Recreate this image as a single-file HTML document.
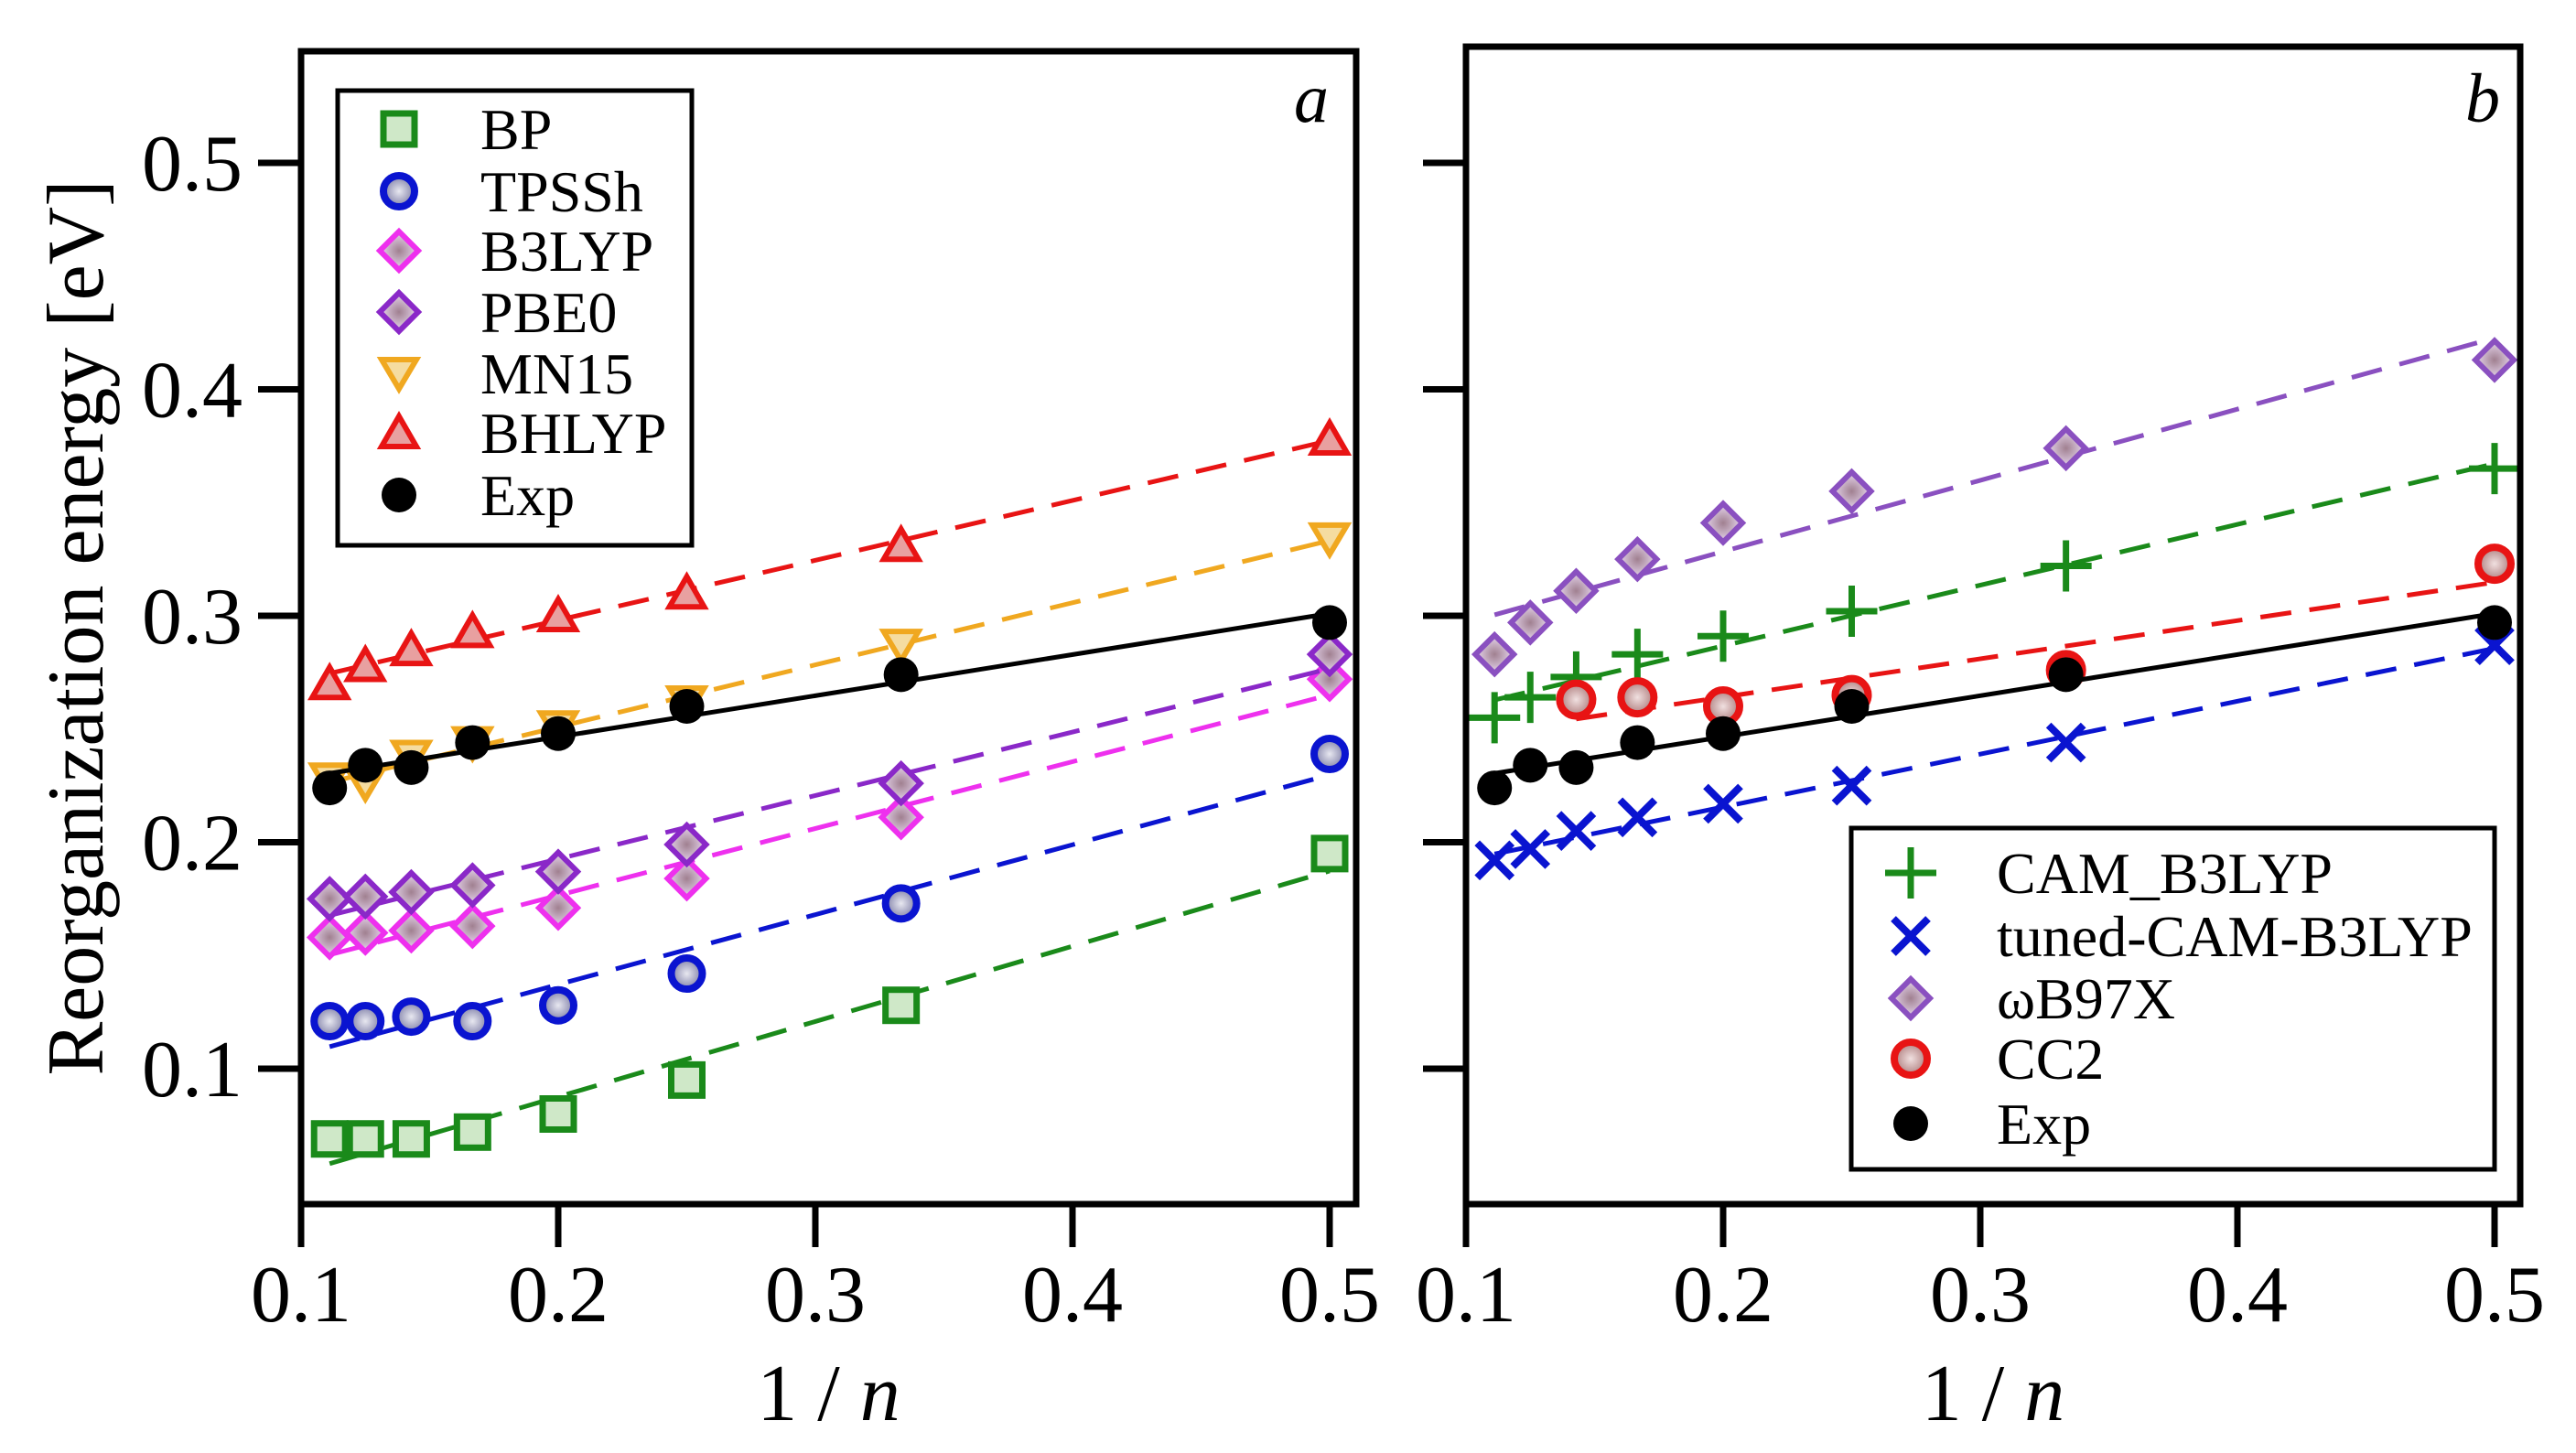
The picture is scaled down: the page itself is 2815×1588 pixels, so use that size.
<!DOCTYPE html>
<html><head><meta charset="utf-8">
<style>
html,body{margin:0;padding:0;background:#fff;}
svg{display:block;font-family:"Liberation Serif",serif;}
</style></head>
<body>
<svg id="chart" width="2815" height="1588" viewBox="0 0 2815 1588" xmlns="http://www.w3.org/2000/svg">
<defs>
<radialGradient id="gb" cx="50%" cy="50%" r="50%"><stop offset="0" stop-color="#e8e8f0"/><stop offset="1" stop-color="#8080a8"/></radialGradient>
<radialGradient id="gr" cx="50%" cy="50%" r="50%"><stop offset="0" stop-color="#f0e0e0"/><stop offset="1" stop-color="#b08080"/></radialGradient>
<radialGradient id="gp" cx="50%" cy="50%" r="50%"><stop offset="0" stop-color="#a08090"/><stop offset="1" stop-color="#e8d8f0"/></radialGradient>
</defs>
<g id="plot"></g>
</svg>
<script>
const xVals = [1/9, 1/8, 1/7, 1/6, 1/5, 1/4, 1/3, 1/2];
const xTicks = [0.1, 0.2, 0.3, 0.4, 0.5];
const yTicks = [0.1, 0.2, 0.3, 0.4, 0.5];
const tickLabels = ["0.1", "0.2", "0.3", "0.4", "0.5"];
const bp = [0.069, 0.069, 0.069, 0.072, 0.080, 0.095, 0.128, 0.195];
const tpssh = [0.121, 0.121, 0.123, 0.121, 0.128, 0.142, 0.173, 0.239];
const b3lyp = [0.158, 0.160, 0.161, 0.163, 0.171, 0.184, 0.211, 0.272];
const pbe0 = [0.175, 0.176, 0.178, 0.181, 0.187, 0.199, 0.226, 0.283];
const mn15 = [0.228, 0.226, 0.238, 0.244, 0.251, 0.262, 0.287, 0.334];
const bhlyp = [0.270, 0.278, 0.285, 0.293, 0.300, 0.310, 0.331, 0.378];
const expVals = [0.224, 0.234, 0.233, 0.244, 0.248, 0.260, 0.274, 0.297];
const camb3lyp = [0.255, 0.264, 0.273, 0.283, 0.291, 0.302, 0.322, 0.365];
const tuned = [0.192, 0.197, 0.205, 0.211, 0.217, 0.225, 0.244, 0.287];
const wb97x = [0.283, 0.297, 0.311, 0.325, 0.341, 0.355, 0.374, 0.413];
const cc2X = [1/7, 1/6, 1/5, 1/4, 1/3, 1/2];
const cc2 = [0.263, 0.264, 0.260, 0.265, 0.276, 0.323];

const NS = "http://www.w3.org/2000/svg";
const root = document.getElementById('plot');
function el(tag, attrs, parent, text){
  const e = document.createElementNS(NS, tag);
  for (const k in attrs) e.setAttribute(k, attrs[k]);
  if (text !== undefined) e.textContent = text;
  (parent || root).appendChild(e);
  return e;
}
const yPx = v => 1168 - (v - 0.1) * 2475;
function makeX(x01, per){ return v => x01 + (v - 0.1) * per; }
const panels = [
  {name:'a', left:329, right:1482, top:56, xf: makeX(329, 2810), lx:1452},
  {name:'b', left:1602, right:2754, top:51, xf: makeX(1602, 2810), lx:2732}
];
const BOT = 1316;

function fit(xs, ys){
  const n = xs.length; let sx=0, sy=0, sxx=0, sxy=0;
  for (let i=0;i<n;i++){ sx+=xs[i]; sy+=ys[i]; sxx+=xs[i]*xs[i]; sxy+=xs[i]*ys[i]; }
  const m = (n*sxy - sx*sy)/(n*sxx - sx*sx);
  return [m, (sy - m*sx)/n];
}

function marker(g, type, color, cx, cy){
  let m;
  if (type==='square') m = el('rect',{x:cx-17,y:cy-17,width:34,height:34,fill:'#cfe8c8',stroke:color,'stroke-width':7},g);
  else if (type==='circle') m = el('circle',{cx:cx,cy:cy,r:17,fill:'url(#gb)',stroke:color,'stroke-width':8},g);
  else if (type==='circleR') m = el('circle',{cx:cx,cy:cy,r:18,fill:'url(#gr)',stroke:color,'stroke-width':8},g);
  else if (type==='diamond') m = el('polygon',{points:`${cx},${cy-21} ${cx+21},${cy} ${cx},${cy+21} ${cx-21},${cy}`,fill:'url(#gp)',stroke:color,'stroke-width':6},g);
  else if (type==='tridown') m = el('polygon',{points:`${cx-19},${cy-15} ${cx+19},${cy-15} ${cx},${cy+17}`,fill:'#f5dca0',stroke:color,'stroke-width':6},g);
  else if (type==='triup') m = el('polygon',{points:`${cx-19},${cy+15} ${cx+19},${cy+15} ${cx},${cy-18}`,fill:'#e8a0a0',stroke:color,'stroke-width':6},g);
  else if (type==='dot') m = el('circle',{cx:cx,cy:cy,r:19,fill:'#000'},g);
  else if (type==='plus') m = el('path',{d:`M${cx-28},${cy}H${cx+28}M${cx},${cy-28}V${cy+28}`,stroke:color,'stroke-width':7,fill:'none'},g);
  else if (type==='cross') m = el('path',{d:`M${cx-19},${cy-19}L${cx+19},${cy+19}M${cx+19},${cy-19}L${cx-19},${cy+19}`,stroke:color,'stroke-width':8,fill:'none'},g);
  return m;
}

function series(p, name, xs, ys, type, color, dashed){
  const g = el('g',{});
  
  
  const [m, b] = fit(xs, ys);
  const x0 = Math.min(...xs), x1 = Math.max(...xs);
  const ln = el('line',{x1:p.xf(x0),y1:yPx(m*x0+b),x2:p.xf(x1),y2:yPx(m*x1+b),stroke:dashed?color:'#000','stroke-width':5,'stroke-dasharray':dashed?'34 20':'none'},g);
  
  
  xs.forEach((x,i)=>{
    const mk = marker(g, type, color, p.xf(x), yPx(ys[i]));
    
    
  });
}

panels.forEach((p, pi)=>{
  const ax = el('g',{});
  
  
  xTicks.forEach((t,i)=>{
    const x = p.xf(t);
    const tk = el('line',{x1:x,y1:BOT,x2:x,y2:1363,stroke:'#000','stroke-width':7},ax);
    
    
    const lb = el('text',{x:x,y:1444,'font-size':88,'text-anchor':'middle'},ax,tickLabels[i]);
    
    
  });
  yTicks.forEach((t,i)=>{
    const y = yPx(t);
    const tk = el('line',{x1:p.left-47,y1:y,x2:p.left,y2:y,stroke:'#000','stroke-width':7},ax);
    
    
    if (pi===0){
      const lb = el('text',{x:265,y:y+30,'font-size':88,'text-anchor':'end'},ax,tickLabels[i]);
      
      
    }
  });
  const xt = el('text',{x:(p.left+p.right)/2,y:1552,'font-size':88,'text-anchor':'middle'},ax);
  
  
  el('tspan',{},xt,'1 / ');
  el('tspan',{'font-style':'italic'},xt,'n');
  const pl = el('text',{x:p.lx,y:133,'font-size':76,'font-style':'italic','text-anchor':'end'},ax,p.name);
  
  
});
const yt = el('text',{x:0,y:0,'font-size':88,'text-anchor':'middle',transform:'translate(112,686) rotate(-90)'},root,'Reorganization energy [eV]');



const A = panels[0], B = panels[1];
series(A,'bp',xVals,bp,'square','#1a8a1a',true);
series(A,'tpssh',xVals,tpssh,'circle','#0a14d0',true);
series(A,'b3lyp',xVals,b3lyp,'diamond','#ee30ee',true);
series(A,'pbe0',xVals,pbe0,'diamond','#8a28c8',true);
series(A,'mn15',xVals,mn15,'tridown','#f0a820',true);
series(A,'bhlyp',xVals,bhlyp,'triup','#e81414',true);
series(A,'exp-a',xVals,expVals,'dot','#000',false);
series(B,'wb97x',xVals,wb97x,'diamond','#8a50c0',true);
series(B,'cam-b3lyp',xVals,camb3lyp,'plus','#1a8a1a',true);
series(B,'cc2',cc2X,cc2,'circleR','#e81414',true);
series(B,'tuned-cam-b3lyp',xVals,tuned,'cross','#0a14d0',true);
series(B,'exp-b',xVals,expVals,'dot','#000',false);

panels.forEach(p=>{
  const f = el('rect',{x:p.left,y:p.top,width:p.right-p.left,height:BOT-p.top,fill:'none',stroke:'#000','stroke-width':7});
  
  
});

function legend(name, box, entries, mx, tx){
  const g = el('g',{});
  
  
  el('rect',{x:box[0],y:box[1],width:box[2]-box[0],height:box[3]-box[1],fill:'#fff',stroke:'#000','stroke-width':5},g);
  entries.forEach(e=>{
    const it = el('g',{},g);
    
    
    marker(it, e[1], e[2], mx, e[3]);
    el('text',{x:tx,y:e[3]+22,'font-size':64},it,e[0]);
  });
}
legend('legend-a',[369,99,756,596],[
  ['BP','square','#1a8a1a',141],['TPSSh','circle','#0a14d0',209],['B3LYP','diamond','#ee30ee',274],
  ['PBE0','diamond','#8a28c8',341],['MN15','tridown','#f0a820',408],['BHLYP','triup','#e81414',473],['Exp','dot','#000',541]
],436,525);
legend('legend-b',[2023,905,2726,1278],[
  ['CAM_B3LYP','plus','#1a8a1a',954],['tuned-CAM-B3LYP','cross','#0a14d0',1023],['ωB97X','diamond','#8a50c0',1091],
  ['CC2','circleR','#e81414',1157],['Exp','dot','#000',1228]
],2088,2182);
</script>
</body></html>
